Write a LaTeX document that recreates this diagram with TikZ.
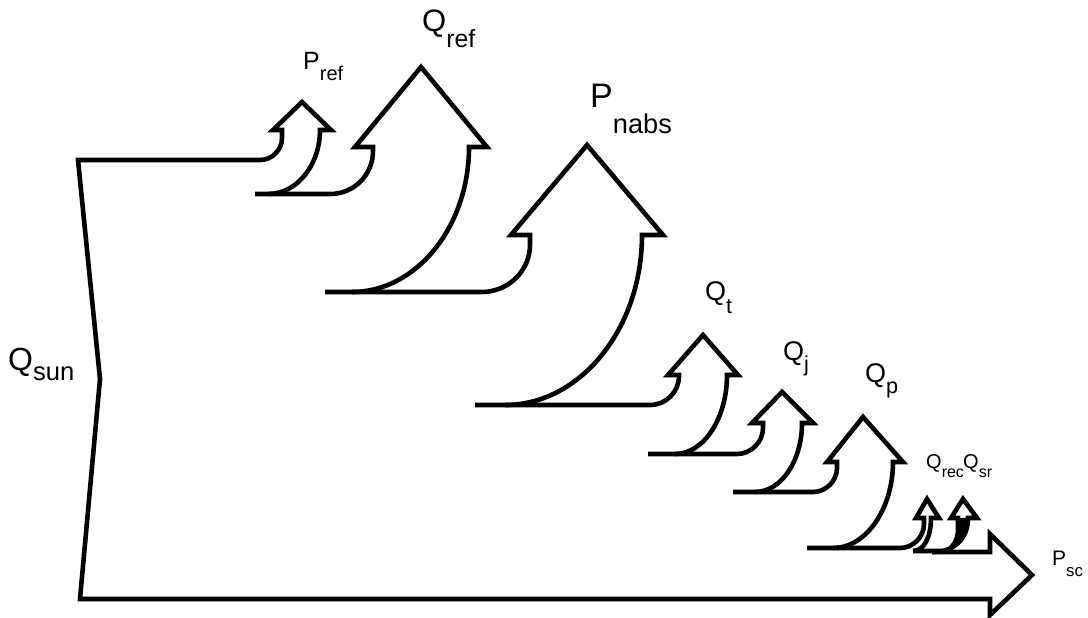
\documentclass[tikz,border=0pt]{standalone}
\usepackage{fontspec}
\setmainfont{Liberation Sans}
\usepackage{graphicx}
\usepackage{tikz}
\newcommand{\fl}[3][.5em]{#2\raisebox{-#1}{\scalebox{.8}{#3}}}
\tikzset{
  band/.style={draw=black, line width=4.6pt, line join=miter},
  lbl/.style={inner sep=0pt, anchor=base west},
  lblL/.style={lbl, font=\fontsize{32}{32}\selectfont},
  lblM/.style={lbl, font=\fontsize{27}{27}\selectfont},
  lblS/.style={lbl, font=\fontsize{20}{20}\selectfont}
}
\begin{document}
\begin{tikzpicture}[x=1pt, y=-1pt]
 \useasboundingbox (0,0) rectangle (1088,618);
 % source and the straight through-flow
 \draw[band] (100,379) -- (78,160) -- (260,160) .. controls (272,160) and (282,150) .. (282,138) -- (282,130) -- (273,130) -- (302,102) -- (331,130) -- (320,130) .. controls (320,165) and (297,194) .. (268,194);
 \draw[band] (100,379) -- (80,599) -- (990,599) -- (990,615) -- (1032,575) -- (990,534) -- (990,552) -- (932,552);
 % losses
 \draw[band] (255,194) -- (330,194) .. controls (354,194) and (373,175) .. (373,151) -- (373,147) -- (355,147) -- (421,67) -- (487,147) -- (469,147) .. controls (469,227) and (416,292) .. (352,292);
 \draw[band] (325,292) -- (482,292) .. controls (508,292) and (530,271) .. (530,245) -- (530,235) -- (511,235) -- (587,145) -- (663,235) -- (642,235) .. controls (642,329) and (580,405) .. (505,405);
 \draw[band] (475,405) -- (650,405) .. controls (666,405) and (679,392) .. (679,376) -- (679,375) -- (668,375) -- (703,335) -- (738,375) -- (727,375) .. controls (727,418) and (704,454) .. (675,454);
 \draw[band] (648,454) -- (737,454) .. controls (751,454) and (763,442) .. (763,428) -- (763,423) -- (752,423) -- (782,392) -- (813,423) -- (802,423) .. controls (802,461) and (781,492) .. (755,492);
 \draw[band] (733,492) -- (813,492) .. controls (826,492) and (837,481) .. (837,468) -- (837,462) -- (827,462) -- (863,417) -- (903,462) -- (893,462) .. controls (893,509) and (866,548) .. (833,548);
 \draw[band] (807,548) -- (900,548) .. controls (913,548) and (924,537) .. (924,524) -- (924,518) -- (916,518) -- (927,499) -- (939,518) -- (931,518) .. controls (931,537) and (924,551) .. (913,551);
 \draw[band] (913,551) -- (943,551) .. controls (951,551) and (958,541) .. (958,530) -- (958,518) -- (951,518) -- (963,499) -- (977,518) -- (968,518) .. controls (968,538) and (955,552) .. (932,552);
 \fill (958,530) -- (958,518) -- (968,518) .. controls (968,538) and (955,552) .. (943,551) .. controls (951,551) and (958,541) .. cycle;
 % labels
 \node[lblL] (qsun) at (8,370) {\fl[.32em]{Q}{sun}};
 \node[lbl, font=\fontsize{25}{25}\selectfont] (pref) at (303,70) {\fl[.44em]{P}{ref}};
 \node[lbl, font=\fontsize{31}{31}\selectfont] (qref) at (422,32) {\fl{Q}{ref}};
 \node[lbl, font=\fontsize{34}{34}\selectfont] (pnabs) at (590,107) {\fl[.77em]{P}{nabs}};
 \node[lblM] (qt) at (705,300) {\fl[.5em]{Q}{t}};
 \node[lblM] (qj) at (783,360) {\fl[.42em]{Q}{j}};
 \node[lblM] (qp) at (865,382) {\fl[.42em]{Q}{p}};
 \node[lblS] (qrec) at (926,468) {\fl[.45em]{Q}{rec}};
 \node[lblS] (qsr) at (963,468) {\fl[.45em]{Q}{sr}};
 \node[lbl, font=\fontsize{21}{21}\selectfont] (psc) at (1052,565) {\fl[.57em]{P}{sc}};
\end{tikzpicture}
\end{document}
